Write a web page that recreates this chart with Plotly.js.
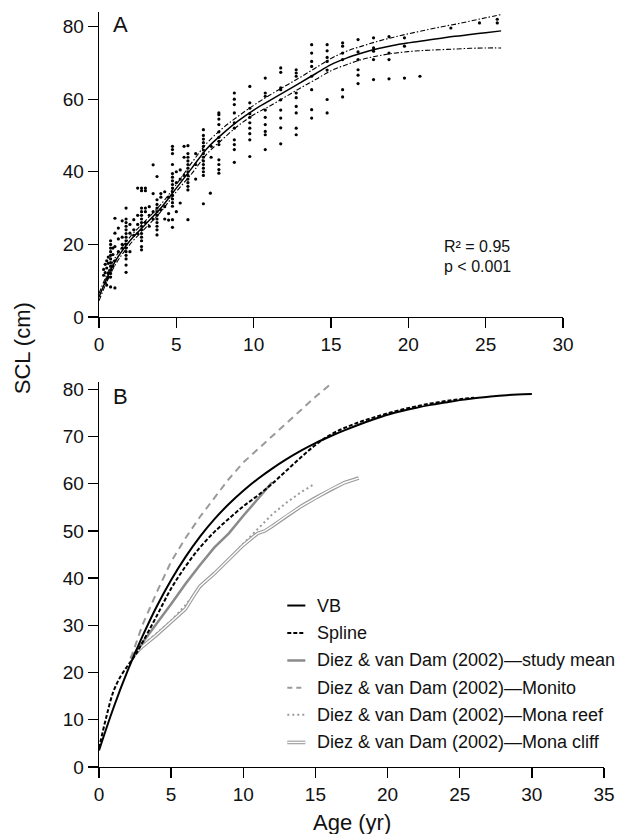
<!DOCTYPE html>
<html>
<head>
<meta charset="utf-8">
<script src="https://cdn.plot.ly/plotly-3.0.1.min.js"></script>
<style>html,body{margin:0;padding:0;background:#fff;}#chart{width:619px;height:834px;}</style>
</head>
<body>
<div id="chart"></div>
<script>
// ---------- Panel A: observed SCL by age (columns of points) ----------
const colAges = [0.3,0.4,0.5,0.6,0.75,0.9,1.03,1.25,1.5,1.75,2.0,2.25,2.5,2.75,3.0,3.25,3.5,3.75,4.0,4.25,4.5,4.75,5.0,5.25,5.5,5.75,6.25,6.75,7.2,7.25,7.75,8.75,9.75,10.75,11.75,12.75,13.75,14.75,15.75,16.75,17.75,18.75,19.75,20.75,22.75,24.6,25.75];
const colSCL = [
  [13.1,11.5],
  [9.5,14.5,12.2],
  [8.8,15.5,13.5,10.5],
  [16.5,12,14.8,11],
  [8.3,11,12,13,14,15,16,17,18,19,20,21],
  [17.2,19,14],
  [27.2,23.1,19.4,15.5,8.0],
  [18,21.5,24.5],
  [19,20,22,26.5],
  [12.3,14.3,16,17,18,19,20,21,22,23,24,25,26,27,30],
  [18,23.1,25.5],
  [22.5,24,26.8],
  [23,25.5,28,35.5],
  [18.5,19.4,21,22,23,24,25,26,27,28,29,30,34.8,35.5],
  [26,29,30,34.8,35.5],
  [25,28,30.4],
  [27,29,34,41.9],
  [22.6,24,25,26,27,28,29,30,31,32.3,38.7],
  [29.5,33,34],
  [27,30.4,34.5],
  [26.7,28.5,33],
  [24.7,26.8,30.5,31.5,32.5,33.5,34.5,35.5,36.5,37.5,38.5,39.5,42,45,46.1,47],
  [29,37,40],
  [31.4,38,40.5],
  [39,44,47],
  [26.8,35,36,37,38,39,40,41,42,43,44,45,47.2],
  [38,42,45],
  [31.2,39,40,41,42,43,44,45,46,47,48,49,50,51.6],
  [34.1],
  [44,47],
  [39.6,40.6,42,43.3,47.5,48.4,49.5,51,53,54.5,55.7,56.2],
  [42.6,46.1,47.5,48.8,52,53.5,56.2,58.5,60,61.7],
  [44.2,48.8,50.5,52,53.5,55,56,57.5,59,63.5],
  [46.1,50.2,51.1,53,55,57,60.8,61.7,65.8],
  [47.7,52.1,54.8,57,59.8,62.6,63.1,67.4,68.6],
  [50.2,52,56.2,58,60.4,61.7,66.3,67.2,68.1],
  [54.8,57.1,62.6,66.3,69,70.4,72.7,75],
  [56.2,59.9,68,70.4,71.5,73.3,75],
  [60.6,62.6,70.9,72.7,74.6,75.5],
  [64.3,66.6,68.1,70.9,73,76.4],
  [65.4,70.9,73.2,74.1,76.9],
  [65.6,70.9,72.7,77.2],
  [65.8,74.6,76.9],
  [66.3],
  [79.6],
  [81],
  [81,82]
];

// Panel A fitted curve and confidence band
const fitAge   = [0,1,2,3,4,5,6,7,8,9,10,11,12,13,14,15,16,17,18,19,20,21,22,23,24,25,26];
const fitSCL   = [5.5,15,21,25.5,30,35.5,41,46.5,50.5,54,57,59.5,62,64.5,67,69.5,71.3,72.7,73.9,74.8,75.5,76.1,76.7,77.3,77.8,78.3,78.8];
const upperSCL = [6.5,16,22,26.5,31,36.5,42.5,48,52,55.3,58.3,61,63.5,66,68.6,71.2,73.2,74.6,75.9,77,78,78.9,79.8,80.6,81.5,82.4,83.3];
const lowerSCL = [4.5,14,20,24.5,29,34.5,39.5,45,49,52.7,55.7,58,60.5,63,65.4,67.8,69.5,70.9,71.9,72.6,73.1,73.4,73.6,73.8,74,74.1,74.1];

// ---------- Panel B: growth curves ----------
const vbAge = [0,1,2,3,4,5,6,7,8,9,10,11,12,13,14,15,16,17,18,19,20,21,22,23,24,25,26,27,28,29,30];
const vbSCL = [3.5,12.5,20.5,27.6,34.0,39.6,44.5,48.8,52.5,55.7,58.5,61.0,63.2,65.2,67.0,68.6,70.0,71.3,72.5,73.6,74.6,75.4,76.1,76.7,77.2,77.7,78.1,78.4,78.7,78.9,79.0];

const splineAge = [0,0.5,1,1.5,2,2.5,3,4,5,6,7,8,9,10,11,12,13,14,15,16,17,18,19,20,21,22,23,24,25,26];
const splineSCL = [4,10.5,16,19.2,21.5,23.6,26.3,32,37.8,42.5,46.5,49.8,52.6,55.2,57.5,60,62.8,65.6,68.2,70.3,71.8,73,74,74.9,75.7,76.4,77,77.5,77.9,78.2];

const meanAge = [2.2,3,4,5,6,7,8,9,10,11,12];
const meanSCL = [23,26.3,30.2,34.5,38.8,42.8,46.5,49.5,53.2,56.8,60.3];

const monitoAge = [2.2,3,4,5,6,7,8,9,10,11,12,13,14,15,16.1];
const monitoSCL = [23,30,37,43.5,48.5,53,57,61,64.5,67.3,70,72.8,75.6,78.4,81.2];

const reefAge = [2.2,3,4,5,6,7,8,9,10,11,12,13,14,14.8];
const reefSCL = [23,25.8,28.3,31,34.3,38,41,44,47.3,50.5,53.5,56,58.2,59.7];

const cliffAge = [2.2,3,4,5,6,6.5,7,8,9,10,11,11.5,12,13,14,15,16,17,18];
const cliffSCL = [23,25.5,28,30.7,33.5,36,38.3,41,44,47,49.5,50,51,53.2,55.2,57,58.7,60.2,61.2];

const xTicksA = [0,5,10,15,20,25,30];
const yTicksA = [0,20,40,60,80];
const legendLabels = ['VB','Spline','Diez & van Dam (2002)\u2014study mean','Diez & van Dam (2002)\u2014Monito','Diez & van Dam (2002)\u2014Mona reef','Diez & van Dam (2002)\u2014Mona cliff'];

// ---------- build ----------
const FONT = 'Liberation Sans, Arial, Helvetica, sans-serif';
const grey = '#9a9a9a';
const ptX = [], ptY = [];
colAges.forEach((a,i)=>colSCL[i].forEach(v=>{ptX.push(a);ptY.push(v);}));

const traces = [
  {x:ptX,y:ptY,xaxis:'x',yaxis:'y',type:'scatter',mode:'markers',marker:{color:'#000',size:3.2},hoverinfo:'skip'},
  {x:fitAge,y:upperSCL,xaxis:'x',yaxis:'y',type:'scatter',mode:'lines',line:{color:'#000',width:1.1,dash:'5px,2px,1.5px,2px',shape:'spline'}},
  {x:fitAge,y:lowerSCL,xaxis:'x',yaxis:'y',type:'scatter',mode:'lines',line:{color:'#000',width:1.1,dash:'5px,2px,1.5px,2px',shape:'spline'}},
  {x:fitAge,y:fitSCL,xaxis:'x',yaxis:'y',type:'scatter',mode:'lines',line:{color:'#000',width:1.5,shape:'spline'}},

  {x:monitoAge,y:monitoSCL,xaxis:'x2',yaxis:'y2',type:'scatter',mode:'lines',line:{color:grey,width:2,dash:'7px,5px'}},
  {x:reefAge,y:reefSCL,xaxis:'x2',yaxis:'y2',type:'scatter',mode:'lines',line:{color:grey,width:2,dash:'2px,3px'}},
  {x:cliffAge,y:cliffSCL,xaxis:'x2',yaxis:'y2',type:'scatter',mode:'lines',line:{color:grey,width:3.6}},
  {x:cliffAge,y:cliffSCL,xaxis:'x2',yaxis:'y2',type:'scatter',mode:'lines',line:{color:'#fff',width:1.4}},
  {x:meanAge,y:meanSCL,xaxis:'x2',yaxis:'y2',type:'scatter',mode:'lines',line:{color:'#8a8a8a',width:2.5}},
  {x:splineAge,y:splineSCL,xaxis:'x2',yaxis:'y2',type:'scatter',mode:'lines',line:{color:'#000',width:2,dash:'4px,2px',shape:'spline'}},
  {x:vbAge,y:vbSCL,xaxis:'x2',yaxis:'y2',type:'scatter',mode:'lines',line:{color:'#000',width:2,shape:'spline'}}
];

const axisBase = {showline:true,linecolor:'#000',linewidth:1.3,ticks:'outside',ticklen:10,tickwidth:1.3,tickcolor:'#000',
  showgrid:false,zeroline:false,tickfont:{family:FONT,size:19,color:'#111'},fixedrange:true};

// legend (custom, drawn in panel B data coordinates)
const legRows = [34.2,28.4,22.56,16.8,11.07,5.2];
const legX0 = 13.05, legX1 = 14.3, legTextX = 14.95;
const legStyles = [
  [{color:'#000',width:2}],
  [{color:'#000',width:2,dash:'4px,2px'}],
  [{color:'#8a8a8a',width:2.5}],
  [{color:grey,width:2,dash:'5px,4px'}],
  [{color:grey,width:2,dash:'2px,3px'}],
  [{color:grey,width:3.6},{color:'#fff',width:1.4}]
];
const shapes = [];
legStyles.forEach((sts,i)=>sts.forEach(st=>shapes.push({type:'line',xref:'x2',yref:'y2',x0:legX0,x1:legX1,y0:legRows[i],y1:legRows[i],line:st})));

const annotations = [
  {text:'A',xref:'x',yref:'y',x:0.8,y:80.5,xanchor:'left',yanchor:'middle',showarrow:false,font:{family:FONT,size:22,color:'#111'}},
  {text:'B',xref:'x2',yref:'y2',x:0.85,y:78.5,xanchor:'left',yanchor:'middle',showarrow:false,font:{family:FONT,size:22,color:'#111'}},
  {text:'R\u00B2 = 0.95',xref:'x',yref:'y',x:22.2,y:19.3,xanchor:'left',yanchor:'middle',showarrow:false,font:{family:FONT,size:16,color:'#111'}},
  {text:'p &lt; 0.001',xref:'x',yref:'y',x:22.2,y:13.8,xanchor:'left',yanchor:'middle',showarrow:false,font:{family:FONT,size:16,color:'#111'}},
  {text:'SCL (cm)',xref:'paper',yref:'paper',x:-0.15,y:0.555,xanchor:'center',yanchor:'middle',textangle:-90,showarrow:false,font:{family:FONT,size:22,color:'#111'}},
  {text:'Age (yr)',xref:'paper',yref:'paper',x:0.5,y:-0.073,xanchor:'center',yanchor:'middle',showarrow:false,font:{family:FONT,size:22,color:'#111'}}
];
legendLabels.forEach((t,i)=>annotations.push({text:t,xref:'x2',yref:'y2',x:legTextX,y:legRows[i],xanchor:'left',yanchor:'middle',showarrow:false,font:{family:FONT,size:18,color:'#111'}}));

const layout = {
  width:619,height:834,margin:{l:99,r:15,t:12,b:67},
  paper_bgcolor:'#fff',plot_bgcolor:'#fff',showlegend:false,
  font:{family:FONT,color:'#111'},
  xaxis:Object.assign({},axisBase,{domain:[0,0.9188],range:[0,30],anchor:'y',tickmode:'array',tickvals:xTicksA}),
  yaxis:Object.assign({},axisBase,{domain:[0.596,1],range:[0,84],anchor:'x',tickmode:'array',tickvals:yTicksA}),
  xaxis2:Object.assign({},axisBase,{domain:[0,1],range:[0,35],anchor:'y2',dtick:5,tick0:0}),
  yaxis2:Object.assign({},axisBase,{domain:[0,0.5103],range:[0,81.6],anchor:'x2',dtick:10,tick0:0}),
  shapes:shapes,annotations:annotations
};

Plotly.newPlot('chart',traces,layout,{displayModeBar:false,staticPlot:true});
</script>
</body>
</html>
